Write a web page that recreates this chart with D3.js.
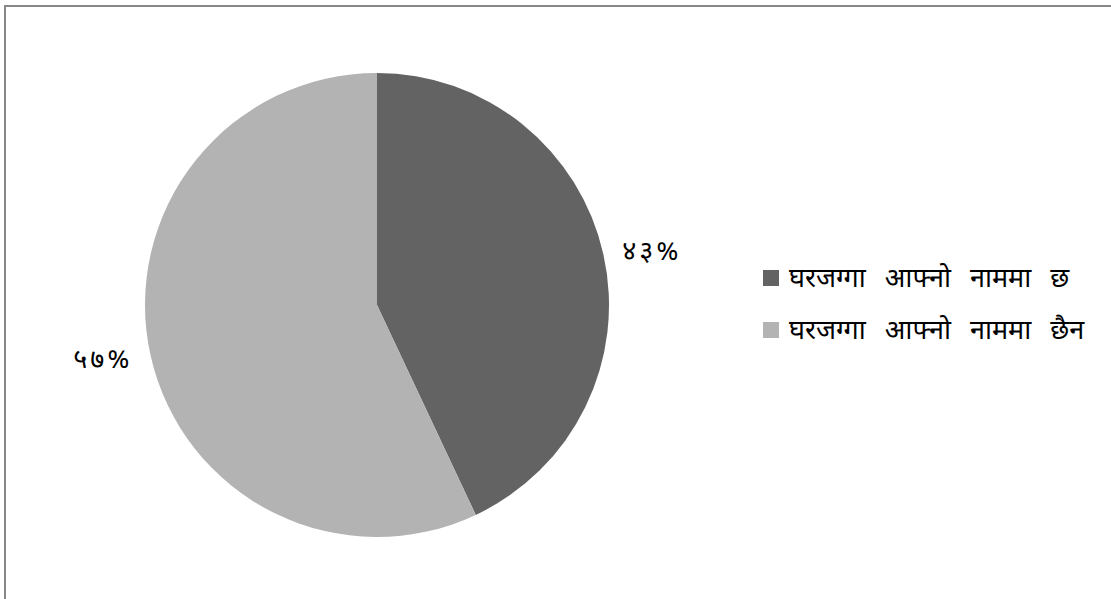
<!DOCTYPE html>
<html>
<head>
<meta charset="utf-8">
<script src="https://cdn.jsdelivr.net/npm/d3@7"></script>
<style>
  html, body { margin: 0; padding: 0; background: #fff; }
  svg { display: block; }
  text { font-family: "Noto Sans Devanagari", "Lohit Devanagari", "Mangal", "FreeSerif", "Noto Serif Devanagari", serif; fill: #000; }
</style>
</head>
<body>
<div id="chart"></div>
<script>
// data
const categories = ['घरजग्गा आफ्नो नाममा छ', 'घरजग्गा आफ्नो नाममा छैन']
const values = [43, 57]
const valueLabels = ['४३%', '५७%']
const colours = ['#636363', '#b3b3b3']

const width = 1111
const height = 599

const svg = d3.select('#chart').append('svg')
    .attr('width', width)
    .attr('height', height)

// chart border (runs off right and bottom edges)
svg.append('rect')
    .attr('x', 5).attr('y', 6)
    .attr('width', width + 10).attr('height', height + 10)
    .attr('fill', 'none')
    .attr('stroke', '#898989')
    .attr('stroke-width', 2)

const cx = 377, cy = 305, radius = 232

const pie = d3.pie().sort(null).value(d => d)
const arcs = pie(values)
const arc = d3.arc().innerRadius(0).outerRadius(radius)

const g = svg.append('g').attr('transform', 'translate(' + cx + ',' + cy + ')')

g.selectAll('path.slice').data(arcs).enter().append('path')
    .attr('class', 'slice')
    .attr('d', arc)
    .attr('fill', (d, i) => colours[i])

// value labels outside the pie
const labelPos = [[275, -52], [-274, 56]]
g.selectAll('text.val').data(arcs).enter().append('text')
    .attr('class', 'val')
    .attr('x', (d, i) => labelPos[i][0])
    .attr('y', (d, i) => labelPos[i][1])
    .attr('text-anchor', 'middle')
    .attr('dominant-baseline', 'central')
    .style('font-size', '27px')
    .style('letter-spacing', '3px')
    .text((d, i) => valueLabels[i])

// legend
const legend = svg.append('g').attr('transform', 'translate(763,270)')
const item = legend.selectAll('g').data(categories).enter().append('g')
    .attr('transform', (d, i) => 'translate(0,' + (i * 52) + ')')
item.append('rect')
    .attr('width', 16).attr('height', 16)
    .attr('fill', (d, i) => colours[i])
item.append('text')
    .attr('x', 26).attr('y', 10)
    .attr('dominant-baseline', 'central')
    .style('font-size', '27px')
    .style('word-spacing', '12px')
    .text(d => d)
</script>
</body>
</html>
